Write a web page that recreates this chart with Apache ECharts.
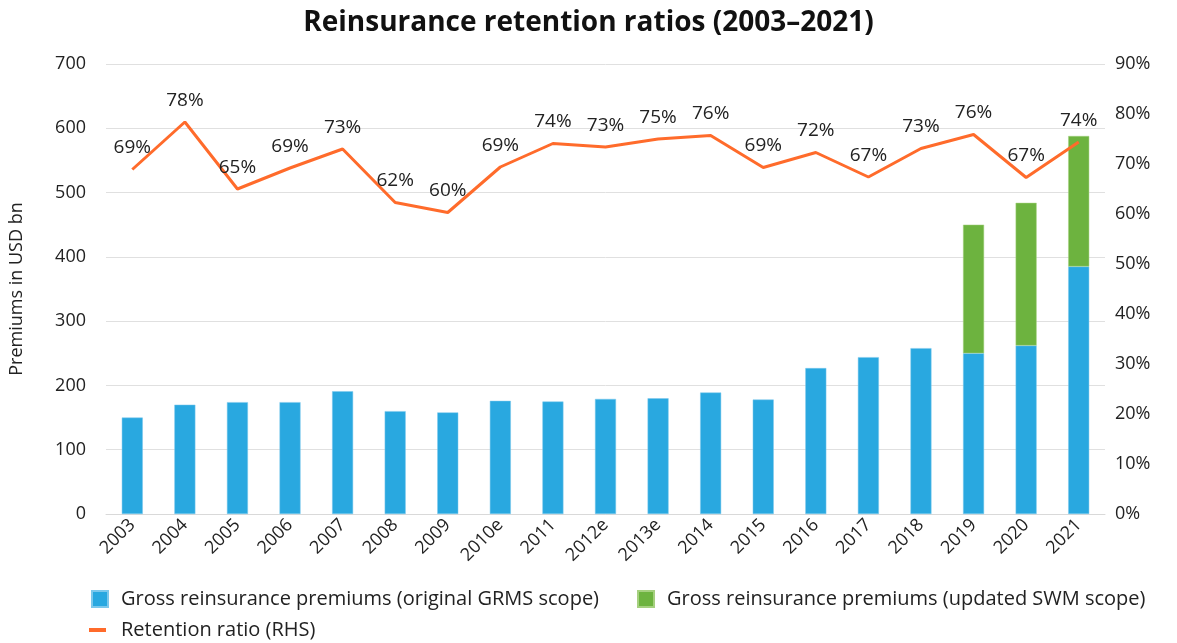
<!DOCTYPE html>
<html>
<head>
<meta charset="utf-8">
<script src="https://cdn.jsdelivr.net/npm/echarts@6/dist/echarts.min.js"></script>
<style>
  html, body { margin: 0; padding: 0; background: #fff; }
  #chart { width: 1177px; height: 643px; }
</style>
</head>
<body>
<div id="chart"></div>
<script>
var years = ['2003', '2004', '2005', '2006', '2007', '2008', '2009', '2010e', '2011', '2012e',
    '2013e', '2014', '2015', '2016', '2017', '2018', '2019', '2020', '2021'];
// premiums, USD bn
var grmsScope = [150, 170, 174, 174, 191, 160, 158, 176, 175, 179,
    180, 189, 178, 227, 244, 258, 250, 262, 385];
var swmExtra = [null, null, null, null, null, null, null, null, null, null,
    null, null, null, null, null, null, 200, 222, 203];
// retention ratio, %
var retention = [68.9, 78.4, 65, 69.2, 73, 62.3, 60.3, 69.4, 74.1, 73.4,
    75, 75.7, 69.3, 72.3, 67.4, 73.1, 75.9, 67.3, 74.4];

var font = 'Open Sans';
var txt = '#222';

var myChart = echarts.init(document.getElementById('chart'));
var option = {
    animation: false,
    title: {
        text: 'Reinsurance retention ratios (2003\u20132021)',
        left: 'center',
        top: 4,
        textStyle: { fontFamily: font, fontSize: 28, fontWeight: 'bold', color: '#111' }
    },
    legend: [
        {
            data: ['Gross reinsurance premiums (original GRMS scope)', 'Gross reinsurance premiums (updated SWM scope)'],
            left: 86,
            top: 584,
            icon: 'rect',
            itemWidth: 16,
            itemHeight: 16,
            itemGap: 38,
            textStyle: { fontFamily: font, fontSize: 20, color: txt, padding: [0, 0, 0, 8] }
        },
        {
            data: ['Retention ratio (RHS)'],
            left: 84,
            top: 615,
            icon: 'rect',
            itemWidth: 17,
            itemHeight: 4,
            textStyle: { fontFamily: font, fontSize: 20, color: txt, padding: [0, 0, 0, 10] }
        }
    ],
    grid: { left: 105, right: 72, top: 64, bottom: 129 },
    xAxis: {
        type: 'category',
        data: years,
        axisTick: { show: false },
        axisLine: { lineStyle: { color: '#d9d9d9' } },
        axisLabel: { rotate: 45, fontFamily: font, fontSize: 18, color: txt, margin: 8 }
    },
    yAxis: [
        {
            type: 'value',
            min: 0,
            max: 700,
            interval: 100,
            name: 'Premiums in USD bn',
            nameLocation: 'middle',
            nameGap: 80,
            nameTextStyle: { fontFamily: font, fontSize: 18, color: txt },
            axisLabel: { fontFamily: font, fontSize: 18, color: txt, margin: 20 },
            splitLine: { lineStyle: { color: '#e0e0e0' } }
        },
        {
            type: 'value',
            min: 0,
            max: 90,
            interval: 10,
            axisLabel: { fontFamily: font, fontSize: 18, color: txt, margin: 10, formatter: '{value}%' },
            splitLine: { show: false }
        }
    ],
    series: [
        {
            name: 'Gross reinsurance premiums (original GRMS scope)',
            type: 'bar',
            stack: 'p',
            barWidth: 21,
            data: grmsScope,
            itemStyle: { color: '#29a8e0', borderColor: '#7cc8ec', borderWidth: 0.5 }
        },
        {
            name: 'Gross reinsurance premiums (updated SWM scope)',
            type: 'bar',
            stack: 'p',
            barWidth: 21,
            data: swmExtra,
            itemStyle: { color: '#6db33f', borderColor: '#a5d07f', borderWidth: 0.5 }
        },
        {
            name: 'Retention ratio (RHS)',
            type: 'line',
            yAxisIndex: 1,
            data: retention,
            symbol: 'circle',
            symbolSize: 0,
            lineStyle: { color: '#ff6b2b', width: 3 },
            itemStyle: { color: '#ff6b2b' },
            label: {
                show: true,
                position: 'top',
                distance: 12,
                fontFamily: font,
                fontSize: 19,
                color: txt,
                formatter: function (p) { return Math.round(p.value) + '%'; }
            },
            labelLayout: { hideOverlap: false }
        }
    ]
};
myChart.setOption(option);
</script>
</body>
</html>
